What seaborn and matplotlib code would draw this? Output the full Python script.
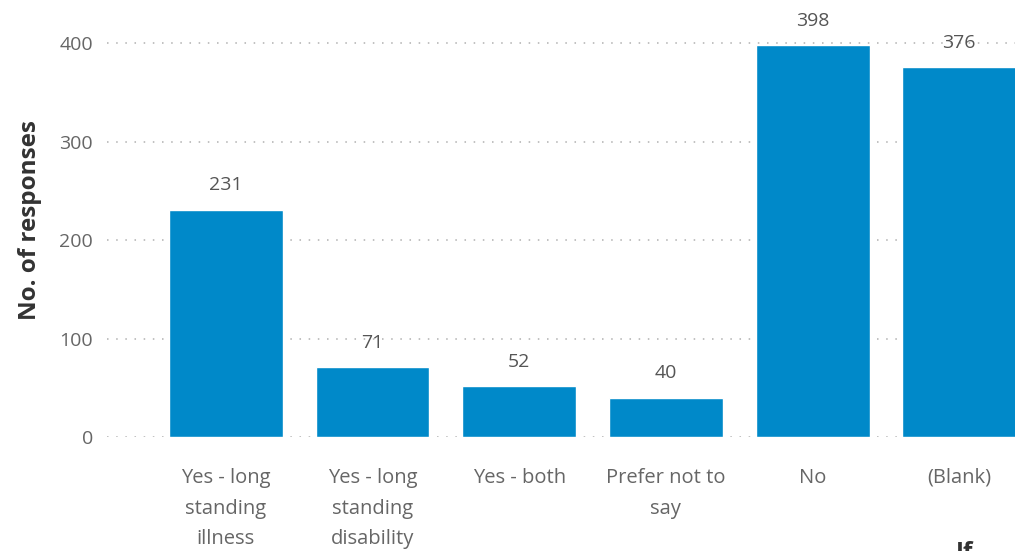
import matplotlib
matplotlib.use("Agg")
import matplotlib.pyplot as plt
import numpy as np
import pandas as pd
import seaborn as sns

# data
categories = ["Yes - long\nstanding\nillness", "Yes - long\nstanding\ndisability",
              "Yes - both", "Prefer not to\nsay", "No", "(Blank)"]
responses = [231, 71, 52, 40, 398, 376]
y_ticks = [0, 100, 200, 300, 400]

df = pd.DataFrame({"category": categories, "responses": responses})

sns.set_style("white")
plt.rcParams["font.family"] = ["Open Sans", "DejaVu Sans"]

bar_color = "#0089C9"
text_grey = "#666666"

fig = plt.figure(figsize=(10.15, 5.51), dpi=100)
W, H = 1015, 551
# axes deliberately runs to the right edge so the last bar is cut like the source
ax = fig.add_axes([107 / W, 1 - 437 / H, (1015 - 107) / W, (437 - 4) / H])

sns.barplot(data=df, x="category", y="responses", color=bar_color,
            width=0.777, saturation=1, ax=ax, zorder=3)

ax.set_xlim(-0.81, 5.38)
ax.set_ylim(0, 440)
ax.set_yticks(y_ticks)
ax.yaxis.grid(True, linestyle=(0, (1, 5)), color="#b0b0b0", linewidth=1.1, zorder=0)
ax.xaxis.grid(False)
sns.despine(ax=ax, left=True, bottom=True)

ax.tick_params(axis="both", length=0, labelcolor=text_grey)
ax.tick_params(axis="y", pad=10, labelsize=14)
ax.tick_params(axis="x", pad=22, labelsize=14.5)
for lbl in ax.get_xticklabels():
    lbl.set_linespacing(1.73)
    lbl.set_verticalalignment("top")

ax.set_xlabel("")
ax.set_ylabel("No. of responses", fontsize=17.5, color="#333333",
              fontweight="bold")
ax.yaxis.set_label_coords(-0.0716, 0.5)

# value labels above the bars
for i, v in enumerate(responses):
    ax.annotate(str(v), (i, v), xytext=(0, 11), textcoords="offset points",
                ha="center", va="bottom", fontsize=14, color="#555555")

# x-axis title, cut off at the bottom edge as in the source
fig.text(956 / W, 1 - 541 / H, "If", fontsize=17.5, color="#333333",
         fontweight="bold", va="top", ha="left")

fig.savefig("out.png", dpi=100)
